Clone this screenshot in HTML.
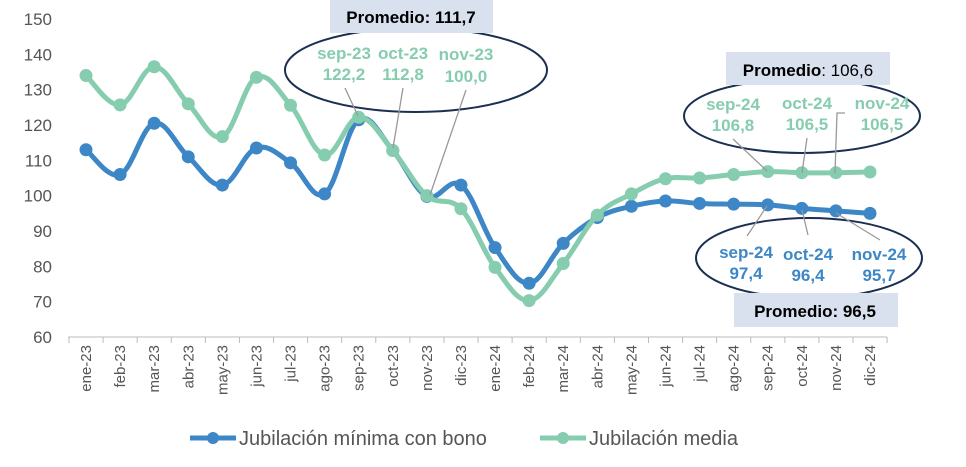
<!DOCTYPE html>
<html><head><meta charset="utf-8"><style>
body{margin:0;background:#fff;}
svg{display:block;font-family:"Liberation Sans",sans-serif;}
</style></head><body>
<svg id="s" width="966" height="467" viewBox="0 0 966 467" xmlns="http://www.w3.org/2000/svg">
<g id="grid"></g>
<g id="lines"></g>
<ellipse cx="416" cy="70" rx="131" ry="42" fill="none" stroke="#1b2f52" stroke-width="2"/>
<rect x="330" y="0" width="163" height="33" fill="#d9e1ef"/>
<text x="411" y="23" text-anchor="middle" font-size="17" font-weight="bold" fill="#000">Promedio: 111,7</text>
<g font-size="17" font-weight="bold" fill="#86cdb0" text-anchor="middle">
<text x="344" y="59">sep-23</text><text x="344" y="80">122,2</text>
<text x="403" y="59">oct-23</text><text x="403" y="80">112,8</text>
<text x="466" y="60">nov-23</text><text x="466" y="82">100,0</text>
</g>
<g stroke="#999" stroke-width="1.3">
<line x1="345" y1="88" x2="358" y2="116"/><line x1="403" y1="88" x2="393" y2="148"/><line x1="466" y1="90" x2="430" y2="195"/>
</g>
<ellipse cx="802" cy="116" rx="118" ry="37" fill="none" stroke="#1b2f52" stroke-width="2"/>
<rect x="726" y="52" width="164" height="33" fill="#d9e1ef"/>
<text x="808" y="76" text-anchor="middle" font-size="17" fill="#000"><tspan font-weight="bold">Promedio</tspan>: 106,6</text>
<g font-size="17" font-weight="bold" fill="#86cdb0" text-anchor="middle">
<text x="733" y="110">sep-24</text><text x="733" y="131">106,8</text>
<text x="807" y="109">oct-24</text><text x="807" y="130">106,5</text>
<text x="882" y="109">nov-24</text><text x="882" y="130">106,5</text>
</g>
<g stroke="#999" stroke-width="1.3" fill="none">
<line x1="733" y1="139" x2="767" y2="171"/><line x1="807" y1="138" x2="802" y2="173"/><polyline points="845,113 837,113 835,173"/>
</g>
<ellipse cx="809" cy="258" rx="113" ry="40" fill="none" stroke="#1b2f52" stroke-width="2"/>
<rect x="734" y="293" width="164" height="34" fill="#d9e1ef"/>
<text x="815" y="317" text-anchor="middle" font-size="17" font-weight="bold" fill="#000">Promedio: 96,5</text>
<g font-size="17" font-weight="bold" fill="#3d87c7" text-anchor="middle">
<text x="746" y="258">sep-24</text><text x="746" y="279">97,4</text>
<text x="808" y="260">oct-24</text><text x="808" y="281">96,4</text>
<text x="879" y="260">nov-24</text><text x="879" y="281">95,7</text>
</g>
<g stroke="#999" stroke-width="1.3">
<line x1="747" y1="236" x2="767" y2="206"/><line x1="808" y1="235" x2="802" y2="210"/><line x1="880" y1="240" x2="836" y2="213"/>
</g>
<line x1="190" y1="438" x2="236" y2="438" stroke="#3d87c7" stroke-width="5"/><circle cx="213" cy="438" r="6" fill="#3d87c7"/>
<text x="239" y="445" font-size="20" fill="#555">Jubilación mínima con bono</text>
<line x1="540" y1="438" x2="586" y2="438" stroke="#86cdb0" stroke-width="5"/><circle cx="563" cy="438" r="6" fill="#86cdb0"/>
<text x="589" y="445" font-size="20" fill="#555">Jubilación media</text>
</svg>
<script>
var ns="http://www.w3.org/2000/svg";
function Y(v){return 337-(v-60)*3.533;}
function X(i){return 86+i*34.087;}
var g=document.getElementById("grid"),L=document.getElementById("lines");
function el(t,a,p,txt){var e=document.createElementNS(ns,t);for(var k in a)e.setAttribute(k,a[k]);if(txt)e.textContent=txt;p.appendChild(e);return e;}
for(var v=60;v<=150;v+=10){el("text",{x:52,y:Y(v)+6,"text-anchor":"end","font-size":17,fill:"#555"},g,String(v));}
el("line",{x1:68,y1:337,x2:887,y2:337,stroke:"#bbb","stroke-width":1},g);
var labs=["ene-23","feb-23","mar-23","abr-23","may-23","jun-23","jul-23","ago-23","sep-23","oct-23","nov-23","dic-23","ene-24","feb-24","mar-24","abr-24","may-24","jun-24","jul-24","ago-24","sep-24","oct-24","nov-24","dic-24"];
for(var i=0;i<=24;i++){var x=69+i*34.087;el("line",{x1:x,y1:337,x2:x,y2:343,stroke:"#bbb"},g);}
for(var i=0;i<24;i++){el("text",{x:0,y:0,"font-size":15,fill:"#555","text-anchor":"end",transform:"translate("+(X(i)+5)+",345) rotate(-90)"},g,labs[i]);}
var blue=[113,106,120.5,111,103,113.5,109.3,100.5,121.5,112.8,99.8,103,85.3,75.2,86.5,93.8,97,98.5,97.8,97.6,97.4,96.4,95.7,95];
var green=[134,125.7,136.5,126,116.7,133.5,125.6,111.5,122.2,112.8,100,96.3,79.7,70.3,80.8,94.5,100.5,104.8,105,106,106.8,106.5,106.5,106.7];
function path(d,c){var p=d.map(function(v,i){return [X(i),Y(v)];});var s="M"+p[0][0]+","+p[0][1];var t=0.18;
for(var i=0;i<p.length-1;i++){var p0=p[i-1]||p[i],p1=p[i],p2=p[i+1],p3=p[i+2]||p2;
s+=" C"+(p1[0]+(p2[0]-p0[0])*t)+","+(p1[1]+(p2[1]-p0[1])*t)+" "+(p2[0]-(p3[0]-p1[0])*t)+","+(p2[1]-(p3[1]-p1[1])*t)+" "+p2[0]+","+p2[1];}
el("path",{d:s,fill:"none",stroke:c,"stroke-width":5,"stroke-linejoin":"round"},L);
p.forEach(function(q){el("circle",{cx:q[0],cy:q[1],r:6.5,fill:c},L);});}
path(blue,"#3d87c7");path(green,"#86cdb0");
</script>
</body></html>
